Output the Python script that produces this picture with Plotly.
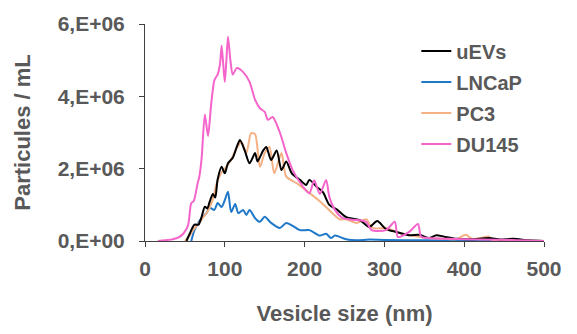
import plotly.graph_objects as go

# Vesicle size (nm) and concentration (x 1e6 particles / mL)
uevs_x = [52, 56, 62, 67, 71, 75, 78, 81, 85, 88, 91, 96, 100, 104, 110, 115, 119, 125, 131, 138, 141, 148, 152, 158, 165, 171, 177, 184, 194, 202, 206, 215, 223, 231, 241, 252, 269, 281, 291, 302, 315, 331, 344, 356, 365, 375, 390, 410, 431, 445, 462, 480, 500]
uevs_y = [0, 0.2, 0.45, 0.45, 0.67, 0.95, 0.9, 1.08, 1.3, 1.2, 1.7, 2.05, 1.87, 2.15, 2.3, 2.6, 2.79, 2.5, 2.15, 2.43, 2.2, 2.5, 2.6, 2.24, 2.5, 1.96, 2.2, 1.87, 1.69, 1.55, 1.69, 1.5, 1.35, 1.0, 0.86, 0.66, 0.58, 0.39, 0.55, 0.33, 0.25, 0.16, 0.17, 0.08, 0.16, 0.12, 0.06, 0.05, 0.08, 0.04, 0.06, 0.02, 0]

lncap_x = [58, 62, 69, 77, 81, 87, 91, 96, 100, 104, 108, 113, 117, 123, 127, 131, 138, 144, 150, 158, 169, 177, 185, 194, 206, 219, 227, 233, 238, 252, 265, 281, 300, 350, 400, 450, 500]
lncap_y = [0, 0.3, 0.58, 0.77, 0.92, 0.86, 1.05, 0.94, 1.13, 1.36, 0.8, 1.02, 0.77, 0.86, 0.72, 0.86, 0.63, 0.53, 0.67, 0.5, 0.36, 0.5, 0.42, 0.3, 0.3, 0.15, 0.2, 0.08, 0.15, 0.05, 0.02, 0.04, 0.03, 0.02, 0.02, 0.01, 0]

pc3_x = [50, 56, 62, 68, 73, 78, 84, 90, 96, 102, 109, 115, 121, 127, 133, 138, 144, 150, 156, 162, 171, 177, 190, 202, 219, 231, 244, 252, 265, 277, 285, 302, 319, 335, 356, 375, 390, 402, 410, 420, 431, 436, 460, 500]
pc3_y = [0, 0.15, 0.35, 0.5, 0.66, 0.8, 1.08, 1.6, 1.9, 2.05, 2.3, 2.57, 2.74, 2.43, 2.98, 2.95, 2.05, 2.43, 2.6, 1.87, 2.43, 1.78, 1.6, 1.4, 1.1, 0.85, 0.6, 0.6, 0.5, 0.6, 0.36, 0.36, 0.22, 0.15, 0.08, 0.06, 0.05, 0.17, 0.06, 0.08, 0.12, 0.02, 0.02, 0]

du145_x = [16, 25, 35, 42, 48, 54, 58, 61, 66, 68, 71, 75, 79, 83, 87, 91, 94, 96, 98, 100, 102, 104, 107, 110, 115, 123, 131, 138, 144, 150, 154, 160, 169, 177, 185, 198, 206, 212, 219, 227, 231, 238, 248, 265, 277, 284, 302, 313, 317, 331, 342, 346, 356, 380, 420, 460, 500]
du145_y = [0, 0.02, 0.05, 0.1, 0.2, 0.44, 1.05, 1.1, 1.6, 1.77, 2.3, 3.5, 2.9, 3.8, 4.45, 4.6, 4.9, 5.4, 4.9, 4.4, 5.0, 5.65, 5.0, 4.6, 4.78, 4.67, 4.4, 3.9, 3.67, 3.57, 3.35, 3.43, 3.0, 2.43, 1.96, 1.5, 1.32, 1.68, 1.3, 1.69, 1.22, 0.86, 0.63, 0.58, 0.53, 0.3, 0.3, 0.53, 0.11, 0.25, 0.47, 0.12, 0.08, 0.06, 0.04, 0.03, 0]

y_tickvals = [0, 2, 4, 6]
y_ticktext = ["0,E+00", "2,E+06", "4,E+06", "6,E+06"]
x_tickvals = [0, 100, 200, 300, 400, 500]

series = [
    ("LNCaP", lncap_x, lncap_y, "#1F78C8", 2),
    ("PC3", pc3_x, pc3_y, "#F4B183", 3),
    ("uEVs", uevs_x, uevs_y, "#000000", 1),
    ("DU145", du145_x, du145_y, "#F564CB", 4),
]

fig = go.Figure()
for name, xs, ys, color, rank in series:
    fig.add_trace(go.Scatter(
        x=xs, y=ys, name=name, mode="lines",
        line=dict(color=color, width=2, shape="spline", smoothing=0.7),
        legendrank=rank, legendgroup=name,
    ))

gray = "#595959"
font_family = "Liberation Sans, Arial, sans-serif"

fig.update_layout(
    width=577, height=334,
    margin=dict(l=145, r=33, t=24, b=93),
    paper_bgcolor="white", plot_bgcolor="white",
    font=dict(family=font_family, color=gray),
    showlegend=True,
    legend=dict(
        x=0.68, y=0.965, xanchor="left", yanchor="top",
        font=dict(size=20, color=gray, family=font_family, weight="bold"),
        bgcolor="rgba(0,0,0,0)", tracegroupgap=2,
        traceorder="grouped",
    ),
    xaxis=dict(
        range=[0, 500], tickvals=x_tickvals,
        showline=True, linecolor="#404040", linewidth=1,
        ticks="outside", ticklen=5, tickcolor="#404040",
        showgrid=False, zeroline=False,
        ticklabelstandoff=4,
        tickfont=dict(size=21, color=gray, family=font_family, weight="bold"),
        title=dict(text="Vesicle size (nm)", standoff=26,
                   font=dict(size=22, color=gray, family=font_family, weight="bold")),
    ),
    yaxis=dict(
        range=[0, 6], tickvals=y_tickvals, ticktext=y_ticktext,
        showline=True, linecolor="#404040", linewidth=1,
        ticks="outside", ticklen=5, tickcolor="#404040",
        showgrid=False, zeroline=False,
        ticklabelstandoff=10,
        tickfont=dict(size=21, color=gray, family=font_family, weight="bold"),
        title=dict(text="Particules / mL", standoff=20,
                   font=dict(size=22, color=gray, family=font_family, weight="bold")),
    ),
)

fig.write_html("out.html")
